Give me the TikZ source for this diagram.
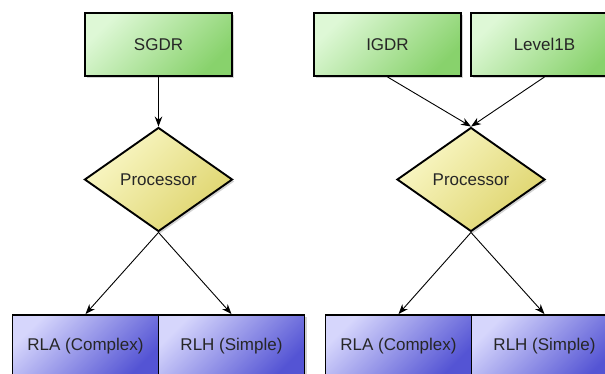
\documentclass[tikz,border=0pt]{standalone}
\usepackage{fontspec}
\setmainfont{Liberation Sans}
\usetikzlibrary{shapes.geometric,arrows.meta,shadows}

\definecolor{greenA}{RGB}{222,248,214}
\definecolor{greenB}{RGB}{136,210,108}
\definecolor{yellowA}{RGB}{250,248,200}
\definecolor{yellowB}{RGB}{222,212,108}
\definecolor{blueA}{RGB}{214,214,252}
\definecolor{blueB}{RGB}{84,84,212}

\tikzset{
  boxbase/.style={rectangle, draw=black, line width=1.9pt, minimum height=63pt,
    inner sep=0pt, font=\fontsize{17}{20}\selectfont, text=black!85,
    drop shadow={shadow xshift=2pt, shadow yshift=-2pt, opacity=0.35}},
  srcbox/.style={boxbase, minimum width=147pt, top color=greenA, bottom color=greenB, shading angle=45},
  outbox/.style={boxbase, minimum width=146pt, top color=blueA, bottom color=blueB, shading angle=45},
  procnode/.style={diamond, draw=black, line width=1.9pt, minimum width=148pt,
    minimum height=104pt, inner sep=0pt, font=\fontsize{17}{20}\selectfont, text=black!85,
    top color=yellowA, bottom color=yellowB, shading angle=45,
    drop shadow={shadow xshift=2pt, shadow yshift=-2pt, opacity=0.35}},
  flow/.style={draw=black, line width=0.9pt, -{Stealth[length=10pt,width=7.5pt]}}
}

\begin{document}
\begin{tikzpicture}[x=1pt,y=-1pt]
  \useasboundingbox (0,0) rectangle (605,374);
  \begin{scope}
  \clip (0,0) rectangle (605,374);

  % left chain
  \node[srcbox] (sgdr) at (158.5,44.5) {SGDR};
  \node[procnode] (p1) at (158.5,179.5) {Processor};
  \node[outbox] (rla1) at (85.5,346.5) {RLA (Complex)};
  \node[outbox] (rlh1) at (231.5,346.5) {RLH (Simple)};

  % right chain
  \node[srcbox] (igdr) at (387.5,44.5) {IGDR};
  \node[srcbox] (lvl) at (544.5,44.5) {Level1B};
  \node[procnode] (p2) at (471,179.5) {Processor};
  \node[outbox] (rla2) at (398.5,346.5) {RLA (Complex)};
  \node[outbox] (rlh2) at (544.5,346.5) {RLH (Simple)};

  % connectors
  \draw[flow] (sgdr.south) -- (p1.north);
  \draw[flow] (p1.south) -- (rla1.north);
  \draw[flow] (p1.south) -- (rlh1.north);
  \draw[flow] (igdr.south) -- (p2.north);
  \draw[flow] (lvl.south) -- (p2.north);
  \draw[flow] (p2.south) -- (rla2.north);
  \draw[flow] (p2.south) -- (rlh2.north);
  \end{scope}
\end{tikzpicture}
\end{document}
